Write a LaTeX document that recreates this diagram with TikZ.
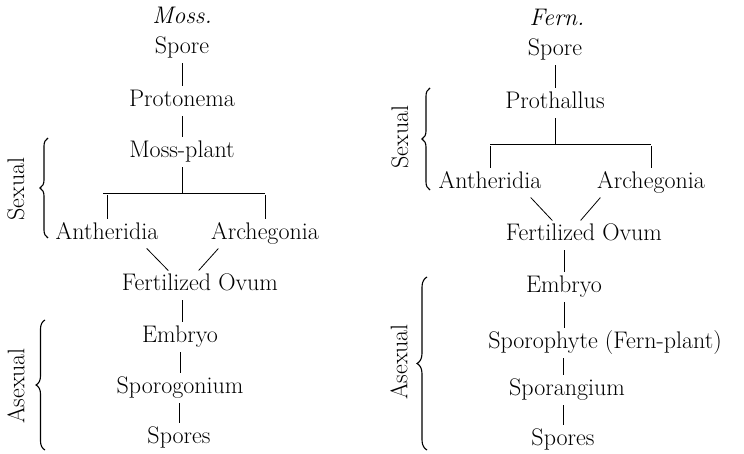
\documentclass[tikz,border=0pt]{standalone}
\usetikzlibrary{decorations.pathreplacing}
\tikzset{
    stage/.style={inner sep=2pt, text height=16pt, text depth=5pt,
                  font=\fontsize{24}{28}\selectfont},
    heading/.style={stage, font=\fontsize{24}{28}\selectfont\itshape},
    phase/.style={rotate=90, inner sep=0pt, font=\fontsize{24}{28}\selectfont},
    link/.style={-, line width=0.8pt, shorten <=2.5pt, shorten >=2.5pt},
    bar/.style={-, line width=0.8pt},
    cycle brace/.style={decorate, decoration={brace, amplitude=#1}, line width=1.1pt},
}
\begin{document}
\begin{tikzpicture}[x=1pt, y=-1pt]
    \useasboundingbox (0,0) rectangle (744,454);
    % Moss
    \node[heading] (mhead) at (182,18) {Moss.};
    \node[stage] (mspore) at (182,48) {Spore};
    \node[stage] (mproto) at (182,101) {Protonema};
    \node[stage] (mplant) at (182,152) {Moss-plant};
    \node[stage] (manth) at (107,234) {Antheridia};
    \node[stage] (march) at (265,234) {Archegonia};
    \node[stage] (movum) at (200,285) {Fertilized Ovum};
    \node[stage] (membryo) at (180,337) {Embryo};
    \node[stage] (msporog) at (180,388) {Sporogonium};
    \node[stage] (mspores) at (179,438) {Spores};
    \coordinate (mfork) at (182,193);
    \draw[link] (mspore) -- (mproto);
    \draw[link] (mproto) -- (mplant);
    \draw[link, shorten >=0pt] (mplant) -- (mfork);
    \draw[bar] ([xshift=-4pt]mfork -| manth) -- (mfork -| march);
    \draw[link] (mfork -| manth) -- (manth);
    \draw[link] (mfork -| march) -- (march);
    \draw[link] ([xshift=38pt]manth.south) -- ([xshift=-30pt]movum.north);
    \draw[link] ([xshift=-45pt]march.south) -- ([xshift=-3pt]movum.north);
    \draw[link] (movum.south -| mfork) -- (membryo.north -| mfork);
    \draw[link] (membryo) -- (msporog);
    \draw[link] (msporog.south -| mspores) -- (mspores);
    \node[phase] (msexual) at (16,189) {Sexual};
    \draw[cycle brace=8pt] (48,238) -- (48,138);
    \node[phase] (masexual) at (16,386) {Asexual};
    \draw[cycle brace=9pt] (45,450) -- (45,320);
    % Fern
    \node[heading] (fhead) at (557,20) {Fern.};
    \node[stage] (fspore) at (555,50) {Spore};
    \node[stage] (fproth) at (555,103) {Prothallus};
    \node[stage] (fanth) at (490,183) {Antheridia};
    \node[stage] (farch) at (651,183) {Archegonia};
    \node[stage] (fovum) at (584,235) {Fertilized Ovum};
    \node[stage] (fembryo) at (564,287) {Embryo};
    \node[stage] (fsporo) at (605,343) {Sporophyte (Fern-plant)};
    \node[stage] (fsporang) at (567,390) {Sporangium};
    \node[stage] (fspores) at (563,440) {Spores};
    \coordinate (ffork) at (555,144);
    \draw[link] (fspore) -- (fproth);
    \draw[link, shorten >=0pt] (fproth) -- (ffork);
    \draw[bar] (ffork -| fanth) -- (ffork -| farch);
    \draw[link] (ffork -| fanth) -- (fanth);
    \draw[link] (ffork -| farch) -- (farch);
    \draw[link] ([xshift=39pt]fanth.south) -- ([xshift=-30pt]fovum.north);
    \draw[link] ([xshift=-49pt]farch.south) -- ([xshift=-5pt]fovum.north);
    \draw[link] (fovum.south -| fembryo) -- (fembryo);
    \draw[link] (fembryo) -- (fembryo |- fsporo.north);
    \draw[link] (fsporo.south -| fspores) -- (fsporang.north -| fspores);
    \draw[link] (fsporang.south -| fspores) -- (fspores);
    \node[phase] (fsexual) at (400,137) {Sexual};
    \draw[cycle brace=8pt] (430,190) -- (430,88);
    \node[phase] (fasexual) at (399,362) {Asexual};
    \draw[cycle brace=10pt] (427,450) -- (427,277);
\end{tikzpicture}
\end{document}
